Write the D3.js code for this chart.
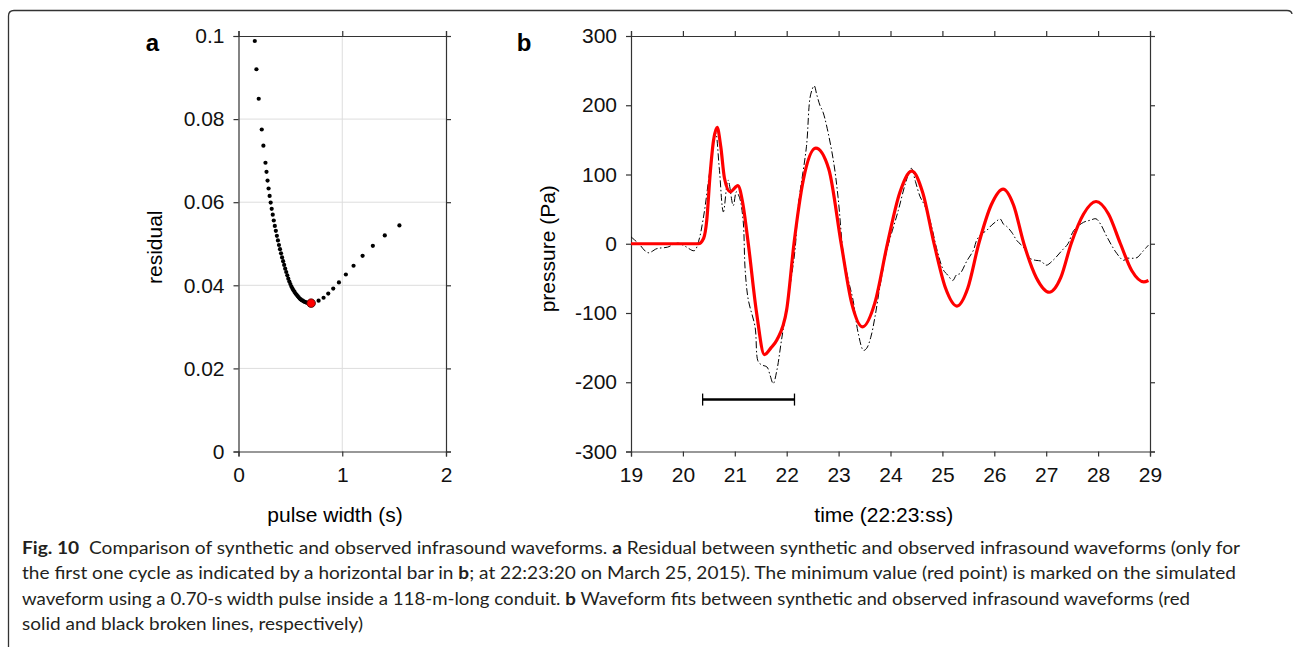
<!DOCTYPE html>
<html>
<head>
<meta charset="utf-8">
<script src="https://cdn.jsdelivr.net/npm/d3@7"></script>
<style>
  body { margin: 0; background: #fff; }
  svg { display: block; }
</style>
</head>
<body>
<svg width="1293" height="647"></svg>
<script>
// panel a: residual vs pulse width
var pulseWidth = [0.157, 0.173, 0.195, 0.224, 0.240,
  0.26, 0.27, 0.28, 0.29, 0.30, 0.31, 0.32, 0.33, 0.34, 0.35, 0.36, 0.37, 0.38, 0.39, 0.40,
  0.41, 0.42, 0.43, 0.44, 0.45, 0.46, 0.47, 0.48, 0.49, 0.50, 0.51, 0.52, 0.53, 0.54, 0.55,
  0.56, 0.57, 0.58, 0.59, 0.60, 0.61, 0.62, 0.63, 0.64, 0.65, 0.66, 0.67, 0.68, 0.69,
  0.772, 0.82, 0.865, 0.913, 0.968, 1.035, 1.109, 1.196, 1.295, 1.41, 1.551];
var residual = [0.0988, 0.0920, 0.0849, 0.0775, 0.0736,
  0.0695, 0.0673, 0.0652, 0.0633, 0.0615, 0.0599, 0.0584, 0.0570, 0.0556, 0.0543, 0.0531, 0.0519, 0.0508, 0.0497, 0.0487,
  0.0477, 0.0467, 0.0458, 0.0449, 0.0440, 0.0432, 0.0424, 0.0416, 0.0409, 0.0403, 0.0397, 0.0392, 0.0388, 0.0384, 0.0380,
  0.0377, 0.0374, 0.0371, 0.0368, 0.0366, 0.0364, 0.0363, 0.0361, 0.0360, 0.0359, 0.0358, 0.0358, 0.0357, 0.0357,
  0.0363, 0.0370, 0.0380, 0.0392, 0.0407, 0.0426, 0.0447, 0.0471, 0.0495, 0.0520, 0.0544];
var bestWidth = 0.70, bestResidual = 0.0357;
var aTicksX = [0, 1, 2];
var aTicksY = [0, 0.02, 0.04, 0.06, 0.08, 0.1];

// panel b: waveforms (synthetic = red, observed = black)
var synT = [19.00, 20.30, 20.40, 20.46, 20.52, 20.59, 20.66, 20.73, 20.80, 20.91, 21.06, 21.15, 21.26,
  21.42, 21.57, 21.70, 21.81, 22.00, 22.14, 22.32, 22.56, 22.81, 23.05, 23.25, 23.46, 23.70, 23.94,
  24.18, 24.41, 24.62, 24.84, 25.06, 25.28, 25.49, 25.70, 25.94, 26.17, 26.37, 26.57, 26.81, 27.06,
  27.28, 27.48, 27.72, 27.96, 28.20, 28.43, 28.65, 28.88, 28.97];
var synP = [0, 0, 8, 34, 96, 149, 168, 140, 95, 75, 84, 60, 0,
  -100, -160, -150, -139, -95, 0, 92, 138, 108, 0, -85, -120, -85, 0,
  74, 105, 74, 0, -64, -90, -64, 0, 56, 79, 56, 0, -49, -70,
  -49, 0, 43, 61, 43, 0, -39, -55, -53];
var obsT = [19.00, 19.15, 19.33, 19.50, 19.70, 19.90, 20.05, 20.22, 20.30, 20.40, 20.52, 20.63, 20.70, 20.78, 20.87,
  20.97, 21.03, 21.09, 21.16, 21.20, 21.26, 21.39, 21.45, 21.52, 21.62, 21.68, 21.74, 21.81, 21.90, 22.03,
  22.16, 22.22, 22.38, 22.46, 22.53, 22.58, 22.64, 22.70, 22.77, 22.90, 22.99, 23.09, 23.18, 23.28, 23.38,
  23.48, 23.54, 23.62, 23.70, 23.80, 23.93, 24.00, 24.15, 24.28, 24.40, 24.48, 24.57, 24.66, 24.76, 24.90,
  25.02, 25.10, 25.20, 25.27, 25.34, 25.47, 25.60, 25.66, 25.75, 25.85, 25.95, 26.05, 26.11, 26.18, 26.24,
  26.35, 26.43, 26.56, 26.69, 26.80, 26.90, 27.00, 27.13, 27.30, 27.42, 27.53, 27.72, 27.85, 27.96, 28.05,
  28.17, 28.36, 28.49, 28.55, 28.65, 28.75, 28.85, 28.97];
var obsP = [10, 0, -13, -7, -5, 1, -4, -10, 3, 40, 106, 161, 110, 46, 92,
  55, 75, 67, 34, -38, -81, -120, -170, -175, -178, -190, -202, -183, -139, -77,
  -9, 53, 140, 215, 228, 215, 200, 190, 170, 120, 67, -14, -50, -82, -130,
  -154, -151, -135, -106, -60, -9, 10, 48, 85, 109, 90, 68, 55, 34, -10,
  -38, -45, -53, -45, -43, -25, -9, 5, 14, 19, 27, 33, 36, 28, 25,
  15, 5, -5, -21, -24, -25, -31, -24, -10, 0, 19, 31, 34, 36, 28,
  10, -14, -24, -21, -21, -20, -12, -2];
var cycleBar = [20.38, 22.15], cycleBarP = -225;
var bTicksX = [19, 20, 21, 22, 23, 24, 25, 26, 27, 28, 29];
var bTicksY = [-300, -200, -100, 0, 100, 200, 300];

var caption = [
  [["b", "Fig. 10"], ["n", "  Comparison of synthetic and observed infrasound waveforms. "], ["b", "a"], ["n", " Residual between synthetic and observed infrasound waveforms (only for"]],
  [["n", "the first one cycle as indicated by a horizontal bar in "], ["b", "b"], ["n", "; at 22:23:20 on March 25, 2015). The minimum value (red point) is marked on the simulated"]],
  [["n", "waveform using a 0.70-s width pulse inside a 118-m-long conduit. "], ["b", "b"], ["n", " Waveform fits between synthetic and observed infrasound waveforms (red"]],
  [["n", "solid and black broken lines, respectively)"]]
];
var captionWidths = [1218, 1214, 1168, 341];

var svg = d3.select("svg");
var font = "'Liberation Sans', Arial, Helvetica, sans-serif";
var fs = 21;

// outer frame
svg.append("path")
  .attr("d", "M8.5,647 L8.5,16 Q8.5,10.5 14,10.5 L1287,10.5 Q1291.5,10.5 1292,14")
  .attr("fill", "none").attr("stroke", "#333").attr("stroke-width", 1.3);

function frame(g, x, y, tx, ty, fmtX, fmtY) {
  var w = x.range()[1], h = y.range()[0];
  var axes = [
    g.append("g").attr("transform", "translate(0," + h + ")")
      .call(d3.axisBottom(x).tickValues(tx).tickSize(5).tickPadding(11).tickFormat(fmtX)),
    g.append("g")
      .call(d3.axisLeft(y).tickValues(ty).tickSize(5).tickPadding(9).tickFormat(fmtY)),
    g.append("g")
      .call(d3.axisTop(x).tickValues(tx).tickSize(5).tickFormat("")),
    g.append("g").attr("transform", "translate(" + w + ",0)")
      .call(d3.axisRight(y).tickValues(ty).tickSize(5).tickFormat(""))
  ];
  axes.forEach(function(a) {
    a.attr("font-family", font).attr("font-size", fs);
    a.selectAll("path, line").attr("stroke", "#333").attr("stroke-width", 1.2);
    a.selectAll("text").attr("fill", "#111");
  });
}

// ---- panel a ----
var ga = svg.append("g").attr("transform", "translate(238.5,36)");
var xa = d3.scaleLinear().domain([0, 2]).range([0, 207.5]);
var ya = d3.scaleLinear().domain([0, 0.1]).range([415.5, 0]);

ga.append("g").selectAll("line").data([1]).enter().append("line")
  .attr("x1", d => xa(d)).attr("x2", d => xa(d)).attr("y1", 0).attr("y2", ya(0))
  .attr("stroke", "#ddd").attr("stroke-width", 1);
ga.append("g").selectAll("line").data([0.02, 0.04, 0.06, 0.08]).enter().append("line")
  .attr("y1", d => ya(d)).attr("y2", d => ya(d)).attr("x1", 0).attr("x2", xa(2))
  .attr("stroke", "#ddd").attr("stroke-width", 1);

frame(ga, xa, ya, aTicksX, aTicksY, d => String(d), function(d) { return d === 0 ? "0" : String(+d.toFixed(2)); });

ga.append("g").selectAll("circle").data(pulseWidth).enter().append("circle")
  .attr("cx", d => xa(d)).attr("cy", (d, i) => ya(residual[i])).attr("r", 2.1).attr("fill", "#000");
ga.append("circle").attr("cx", xa(bestWidth)).attr("cy", ya(bestResidual)).attr("r", 4.3)
  .attr("fill", "#f00").attr("stroke", "#400").attr("stroke-width", 0.8);

ga.append("text").attr("x", -86).attr("y", 15).attr("font-family", font).attr("font-weight", "bold")
  .attr("font-size", 24).attr("text-anchor", "middle").text("a");
ga.append("text").attr("transform", "translate(-77," + (ya(0.05) + 3.5) + ") rotate(-90)")
  .attr("font-family", font).attr("font-size", fs).attr("text-anchor", "middle").text("residual");
ga.append("text").attr("x", xa(0.93)).attr("y", 486).attr("font-family", font).attr("font-size", fs)
  .attr("text-anchor", "middle").text("pulse width (s)");

// ---- panel b ----
var gb = svg.append("g").attr("transform", "translate(631,36)");
var xb = d3.scaleLinear().domain([19, 29]).range([0, 519]);
var yb = d3.scaleLinear().domain([-300, 300]).range([415.5, 0]);

// plain hyphen minus, as in the original
frame(gb, xb, yb, bTicksX, bTicksY, d => String(d), d => String(d));

gb.append("path")
  .attr("d", d3.line().curve(d3.curveCatmullRom.alpha(0.5))(obsT.map((t, i) => [xb(t), yb(obsP[i])])))
  .attr("fill", "none").attr("stroke", "#000").attr("stroke-width", 1)
  .attr("stroke-dasharray", "7,2.5,1.5,2.5");
gb.append("path")
  .attr("d", d3.line().curve(d3.curveMonotoneX)(synT.map((t, i) => [xb(t), yb(synP[i])])))
  .attr("fill", "none").attr("stroke", "#f00").attr("stroke-width", 3.2);

gb.append("line").attr("x1", xb(cycleBar[0])).attr("x2", xb(cycleBar[1]))
  .attr("y1", yb(cycleBarP)).attr("y2", yb(cycleBarP)).attr("stroke", "#000").attr("stroke-width", 2.5);
gb.selectAll("line.cap").data(cycleBar).enter().append("line")
  .attr("x1", d => xb(d)).attr("x2", d => xb(d))
  .attr("y1", yb(cycleBarP) - 6).attr("y2", yb(cycleBarP) + 6).attr("stroke", "#000").attr("stroke-width", 1.3);

gb.append("text").attr("x", -107).attr("y", 15).attr("font-family", font).attr("font-weight", "bold")
  .attr("font-size", 24).attr("text-anchor", "middle").text("b");
gb.append("text").attr("transform", "translate(-76," + (yb(0) + 5) + ") rotate(-90)")
  .attr("font-family", font).attr("font-size", fs).attr("text-anchor", "middle").text("pressure (Pa)");
gb.append("text").attr("x", xb(23.87)).attr("y", 486).attr("font-family", font).attr("font-size", fs)
  .attr("text-anchor", "middle").text("time (22:23:ss)");

// ---- caption ----
var cap = svg.append("g").attr("font-family", "Lato, 'Open Sans', sans-serif")
  .attr("font-size", 16.5).attr("fill", "#231f20");
caption.forEach(function(parts, i) {
  var t = cap.append("text").attr("x", 22).attr("y", 554 + i * 25.3)
    .attr("textLength", captionWidths[i]).attr("lengthAdjust", "spacingAndGlyphs")
    .attr("xml:space", "preserve");
  parts.forEach(function(p) {
    t.append("tspan").attr("font-weight", p[0] === "b" ? "bold" : null).text(p[1]);
  });
});
</script>
</body>
</html>
